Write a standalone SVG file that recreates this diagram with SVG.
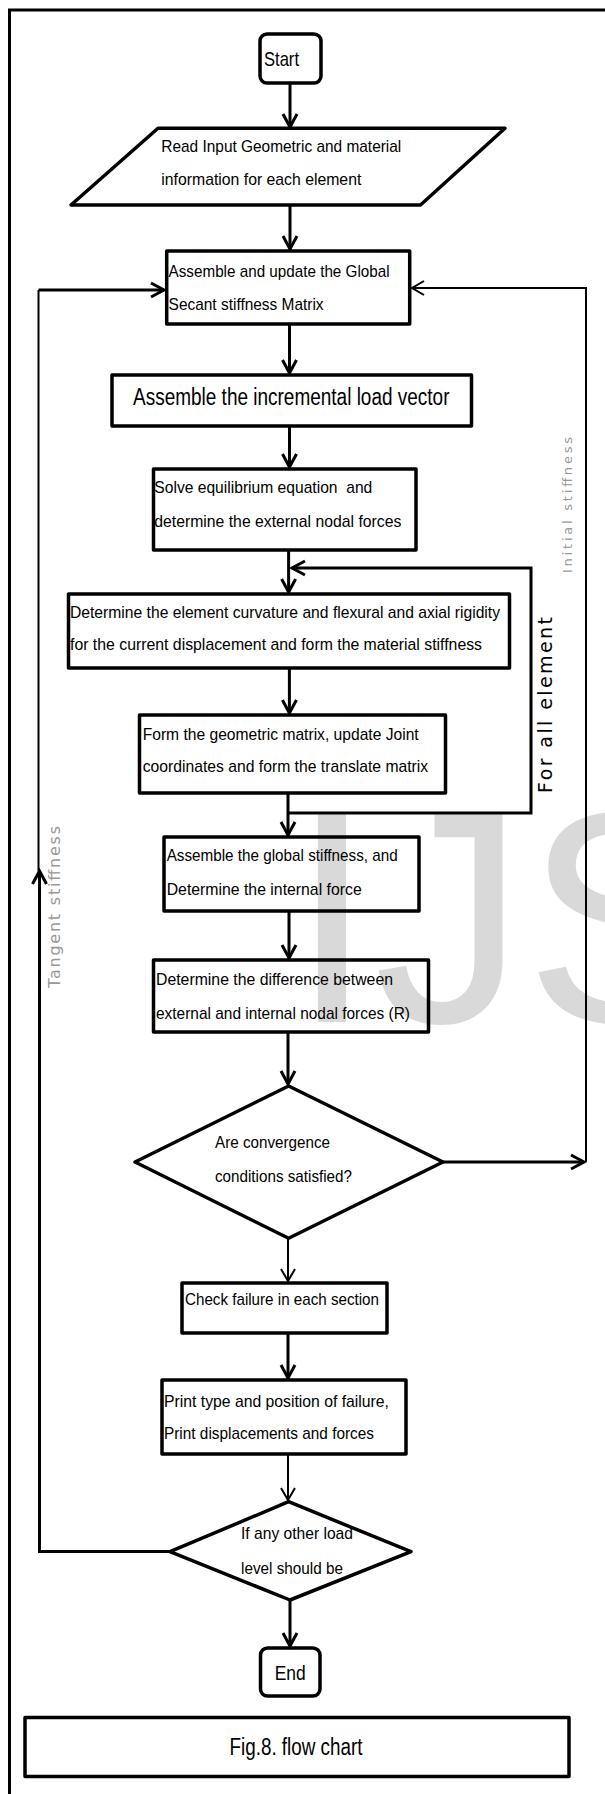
<svg xmlns="http://www.w3.org/2000/svg" width="605" height="1794" viewBox="0 0 605 1794">
<defs>
<style>
.box{fill:none;stroke:#000;stroke-width:3.5;stroke-linejoin:round}
.t{font-family:"Liberation Sans",Arial,sans-serif;font-size:17px;fill:#000}
.big{font-size:23px}
.c{fill:none;stroke:#000;stroke-width:3}
.cn{fill:none;stroke:#000;stroke-width:2}
.lab{font-family:"DejaVu Sans",Verdana,sans-serif;fill:#999}
</style>
<marker id="ah" viewBox="-16 -10 20 20" refX="0" refY="0" markerWidth="20" markerHeight="20" markerUnits="userSpaceOnUse" orient="auto" overflow="visible">
<path d="M-13,-7 L0,0 L-13,7" fill="none" stroke="#000" stroke-width="3"/>
</marker>
<marker id="ahn" viewBox="-16 -10 20 20" refX="0" refY="0" markerWidth="20" markerHeight="20" markerUnits="userSpaceOnUse" orient="auto" overflow="visible">
<path d="M-12,-7 L0,0 L-12,7" fill="none" stroke="#000" stroke-width="2"/>
</marker>
</defs>
<rect width="605" height="1794" fill="#fff"/>
<text x="290" y="1022" font-family="Liberation Sans, Arial, sans-serif" font-size="302" fill="#d9d9d9">IJS</text>
<path d="M9.5,1794 V10 H605" fill="none" stroke="#000" stroke-width="3"/>

<g id="connectors">
<path class="c" d="M290,83 V127" marker-end="url(#ah)"/>
<path class="c" d="M290,205 V249" marker-end="url(#ah)"/>
<path class="c" d="M289.5,324 V373" marker-end="url(#ah)"/>
<path class="c" d="M289.5,426 V467" marker-end="url(#ah)"/>
<path class="c" d="M288.6,550 V592" marker-end="url(#ah)"/>
<path class="c" d="M289.4,668 V713" marker-end="url(#ah)"/>
<path class="c" d="M288,793 V835" marker-end="url(#ah)"/>
<path class="c" d="M289,911 V958" marker-end="url(#ah)"/>
<path class="c" d="M288,1032 V1084" marker-end="url(#ah)"/>
<path class="cn" d="M288,1238 V1281" marker-end="url(#ahn)"/>
<path class="c" d="M288,1333 V1378" marker-end="url(#ah)"/>
<path class="cn" d="M288,1454 V1500" marker-end="url(#ahn)"/>
<path class="c" d="M290,1600 V1646" marker-end="url(#ah)"/>
<path class="c" d="M288,813 H531 V568 H292" marker-end="url(#ah)"/>
<path class="c" d="M443,1162 H584" marker-end="url(#ah)"/>
<path class="cn" d="M586,1162 V288 H412" marker-end="url(#ahn)"/>
<path class="c" d="M170,1551.5 H39.5 V871" marker-end="url(#ah)"/>
<path class="cn" d="M38.5,871 V290"/>
<path class="c" d="M38.5,290 H164" marker-end="url(#ah)"/>
<text class="lab" font-size="13" transform="translate(571.5,573) rotate(-90)" textLength="136" lengthAdjust="spacing">Initial stiffness</text>
<text class="lab" font-size="19" fill="#000" style="fill:#000" transform="translate(552,793) rotate(-90)" textLength="176" lengthAdjust="spacing">For all element</text>
<text class="lab" font-size="16" transform="translate(60,988) rotate(-90)" textLength="162" lengthAdjust="spacing">Tangent stiffness</text>
</g>

<g id="start">
<rect class="box" x="260" y="34" width="61" height="49" rx="7"/>
<text class="t" font-size="21" style="font-size:21px" x="264" y="66" textLength="35" lengthAdjust="spacingAndGlyphs">Start</text>
</g>

<g id="read-input">
<polygon class="box" points="158,128.3 505,128.3 420.5,205 71,205"/>
<text class="t" x="161.3" y="151.7" textLength="240" lengthAdjust="spacingAndGlyphs">Read Input Geometric and material</text>
<text class="t" x="161.3" y="185" textLength="200" lengthAdjust="spacingAndGlyphs">information for each element</text>
</g>

<g id="assemble-secant">
<rect class="box" x="166.7" y="251" width="243" height="73"/>
<text class="t" x="168.6" y="276.7" textLength="221" lengthAdjust="spacingAndGlyphs">Assemble and update the Global</text>
<text class="t" x="168.6" y="310" textLength="155" lengthAdjust="spacingAndGlyphs">Secant stiffness Matrix</text>
</g>

<g id="load-vector">
<rect class="box" x="112" y="375" width="359.5" height="51"/>
<text class="t big" x="133" y="405" textLength="316.5" lengthAdjust="spacingAndGlyphs">Assemble the incremental load vector</text>
</g>

<g id="solve">
<rect class="box" x="153.5" y="469" width="262.5" height="81"/>
<text class="t" x="154.3" y="493.3" textLength="218" lengthAdjust="spacingAndGlyphs" xml:space="preserve">Solve equilibrium equation  and</text>
<text class="t" x="154.3" y="526.7" textLength="247" lengthAdjust="spacingAndGlyphs">determine the external nodal forces</text>
</g>

<g id="curvature">
<rect class="box" x="68.5" y="594" width="441" height="74"/>
<text class="t" x="70" y="618" textLength="430" lengthAdjust="spacingAndGlyphs">Determine the element curvature and flexural and axial rigidity</text>
<text class="t" x="70" y="650" textLength="412" lengthAdjust="spacingAndGlyphs">for the current displacement and form the material stiffness</text>
</g>

<g id="geometric">
<rect class="box" x="139.5" y="715" width="306" height="78"/>
<text class="t" x="142.7" y="740" textLength="276" lengthAdjust="spacingAndGlyphs">Form the geometric matrix, update Joint</text>
<text class="t" x="142.7" y="771.7" textLength="285.5" lengthAdjust="spacingAndGlyphs">coordinates and form the translate matrix</text>
</g>

<g id="global-stiffness">
<rect class="box" x="164" y="837" width="255" height="74"/>
<text class="t" x="166.7" y="860.5" textLength="231" lengthAdjust="spacingAndGlyphs">Assemble the global stiffness, and</text>
<text class="t" x="166.7" y="894.5" textLength="195" lengthAdjust="spacingAndGlyphs">Determine the internal force</text>
</g>

<g id="difference">
<rect class="box" x="153.5" y="960" width="275" height="72"/>
<text class="t" x="156" y="985" textLength="237" lengthAdjust="spacingAndGlyphs">Determine the difference between</text>
<text class="t" x="156" y="1018.7" textLength="254" lengthAdjust="spacingAndGlyphs">external and internal nodal forces (R)</text>
</g>

<g id="convergence">
<polygon class="box" points="288.6,1086 443,1162 288.6,1238.3 135,1162"/>
<text class="t" x="215" y="1148.3" textLength="115" lengthAdjust="spacingAndGlyphs">Are convergence</text>
<text class="t" x="215" y="1181.7" textLength="137" lengthAdjust="spacingAndGlyphs">conditions satisfied?</text>
</g>

<g id="check-failure">
<rect class="box" x="182" y="1283" width="205" height="50"/>
<text class="t" x="185" y="1305" textLength="194" lengthAdjust="spacingAndGlyphs">Check failure in each section</text>
</g>

<g id="print">
<rect class="box" x="162" y="1380" width="244" height="74"/>
<text class="t" x="164" y="1406.7" textLength="225" lengthAdjust="spacingAndGlyphs">Print type and position of failure,</text>
<text class="t" x="164" y="1439.3" textLength="210" lengthAdjust="spacingAndGlyphs">Print displacements and forces</text>
</g>

<g id="other-load">
<polygon class="box" points="288.6,1501.7 411,1551.7 290,1600 170,1551.7"/>
<text class="t" x="241" y="1539" textLength="112" lengthAdjust="spacingAndGlyphs">If any other load</text>
<text class="t" x="241" y="1574" textLength="102" lengthAdjust="spacingAndGlyphs">level should be</text>
</g>

<g id="end">
<rect class="box" x="260.5" y="1648" width="59.5" height="48" rx="7"/>
<text class="t" style="font-size:21px" x="274.7" y="1680" textLength="31" lengthAdjust="spacingAndGlyphs">End</text>
</g>

<g id="caption">
<rect class="box" x="25" y="1717.5" width="544" height="59"/>
<text class="t big" x="229.5" y="1755" textLength="133" lengthAdjust="spacingAndGlyphs">Fig.8. flow chart</text>
</g>
</svg>
